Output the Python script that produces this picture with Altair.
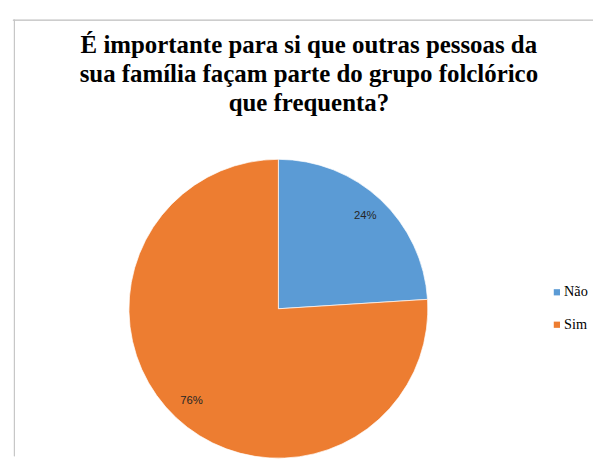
import altair as alt
import pandas as pd

categories = ["Não", "Sim"]
values = [24, 76]
labels = ["24%", "76%"]
order = [0, 1]
colors = ["#5b9bd5", "#ed7d31"]
title_lines = [
    "É importante para si que outras pessoas da",
    "sua família façam parte do grupo folclórico",
    "que frequenta?",
]

df = pd.DataFrame({"cat": categories, "val": values, "lab": labels, "ord": order})

SERIF = "Liberation Serif, Times New Roman, serif"

W, H = 590, 446
CX, CY = 270, 296
R = 152

base = alt.Chart(df)

pie = base.mark_arc(outerRadius=R, stroke="white", strokeWidth=0.7).encode(
    theta=alt.Theta("val:Q", stack=True),
    order=alt.Order("ord:Q"),
    color=alt.Color(
        "cat:N",
        scale=alt.Scale(domain=categories, range=colors),
        legend=alt.Legend(
            title=None,
            orient="none",
            legendX=546,
            legendY=272,
            padding=0,
            symbolType="square",
            symbolSize=40,
            symbolStrokeWidth=0,
            labelFont=SERIF,
            labelFontSize=14.5,
            labelColor="#000000",
            labelOffset=0,
            rowPadding=18,
        ),
    ),
    x=alt.value(CX),
    y=alt.value(CY),
)

text = base.mark_text(
    radius=129, font="Liberation Sans, Arial, sans-serif", fontSize=11.5, color="#262626"
).encode(
    theta=alt.Theta("val:Q", stack=True),
    order=alt.Order("ord:Q"),
    text="lab:N",
    x=alt.value(CX),
    y=alt.value(CY),
)

top_border = base.mark_rule(color="#c6c6c6", strokeWidth=1).encode(
    x=alt.value(0), x2=alt.value(W), y=alt.value(2.5)
)
left_border = base.mark_rule(color="#c6c6c6", strokeWidth=1).encode(
    x=alt.value(1.5), y=alt.value(2), y2=alt.value(H)
)

chart = (
    alt.layer(top_border, left_border, pie, text)
    .properties(
        width=W,
        height=H,
        padding={"left": 4, "top": 6, "right": 0, "bottom": 0},
        title=alt.TitleParams(
            text=title_lines,
            anchor="middle",
            frame="group",
            font=SERIF,
            fontSize=25.3,
            fontWeight="bold",
            color="#000000",
            lineHeight=29.5,
            offset=-100,
            dx=6,
        ),
        background="white",
    )
    .configure_view(stroke=None)
)

chart.save("out.html", embed_options={"renderer": "svg", "actions": False})
